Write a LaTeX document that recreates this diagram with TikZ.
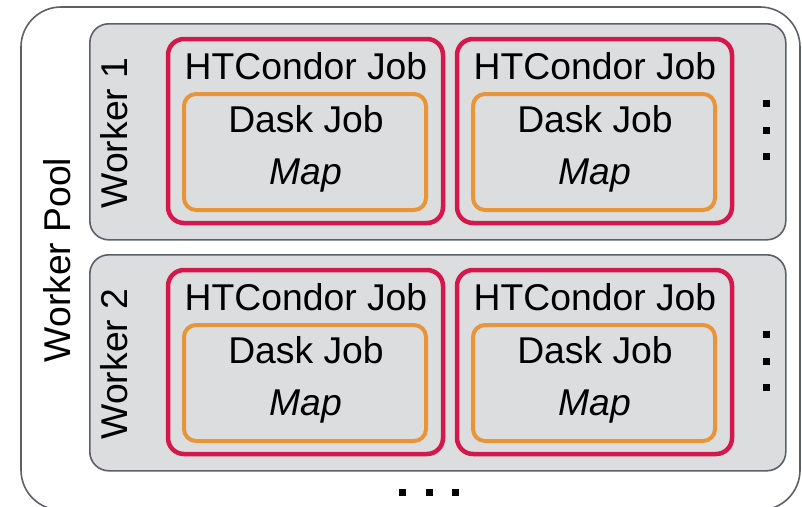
\documentclass[tikz,border=0pt]{standalone}
\usepackage{fontspec}
\setmainfont{Liberation Sans}
\definecolor{edgegray}{HTML}{5C6068}
\definecolor{fillgray}{HTML}{DCDDDF}
\definecolor{jobred}{HTML}{D5174B}
\definecolor{dkorange}{HTML}{E8953A}
\begin{document}
\begin{tikzpicture}[x=1pt,y=-1pt,
  every node/.style={inner sep=0pt, outer sep=0pt},
  poolbox/.style={draw=edgegray, line width=1.6pt, rounded corners=40pt, fill=white},
  workerbox/.style={draw=edgegray, line width=1.6pt, rounded corners=19pt, fill=fillgray},
  condorbox/.style={draw=jobred, line width=4.5pt, rounded corners=16pt},
  daskbox/.style={draw=dkorange, line width=4pt, rounded corners=12pt},
  lbl/.style={font=\fontsize{37.3}{40}\selectfont, anchor=base},
  dotsq/.style={fill=black, minimum width=7pt, minimum height=7pt}
]
\useasboundingbox (0,0) rectangle (802,506);
\begin{scope}
\clip (0,0) rectangle (802,506);
\node[poolbox, minimum width=779pt, minimum height=503pt, anchor=north west] (pool) at (21,7) {};
\end{scope}
\node[lbl, rotate=90] (pooltxt) at (70,260) {Worker Pool};

\foreach \w/\dy in {1/0,2/231}{
  \node[workerbox, minimum width=696pt, minimum height=216pt, anchor=north west] (worker\w) at (89.8,23.8+\dy) {};
  \node[lbl, rotate=90] (wtxt\w) at (127,133+\dy) {Worker \w};
  \foreach \j/\x in {1/168,2/457}{
    \node[condorbox, minimum width=275pt, minimum height=184pt, anchor=north west] (c\w\j) at (\x,39+\dy) {};
    \node[daskbox, minimum width=242pt, minimum height=116pt, anchor=north west] (d\w\j) at (\x+16,94+\dy) {};
    \node[lbl] (ct\w\j) at (\x+138,79+\dy) {HTCondor Job};
    \node[lbl] (dt\w\j) at (\x+138,132+\dy) {Dask Job};
    \node[lbl] (mt\w\j) at (\x+138,184+\dy) {\itshape Map};
  }
  \foreach \k/\yy in {1/103,2/130,3/156}{
    \node[dotsq] (v\w\k) at (766,\yy+\dy) {};
  }
}
\foreach \k/\xx in {1/402,2/429,3/455}{
  \node[dotsq] (h\k) at (\xx,492) {};
}
\end{tikzpicture}
\end{document}
